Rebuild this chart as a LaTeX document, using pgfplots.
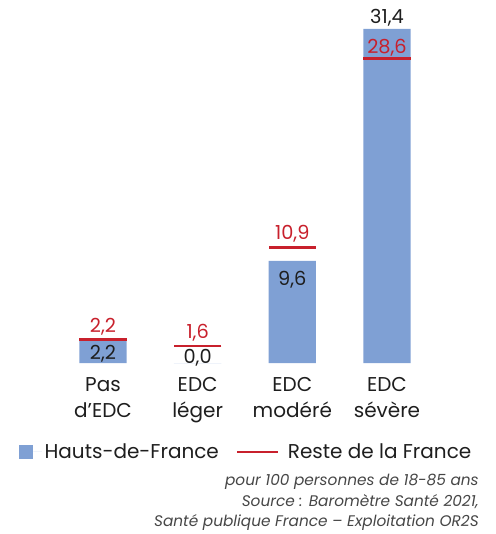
\documentclass[border=0pt]{standalone}
\usepackage{fontspec}
\setmainfont{Poppins}
\usepackage{pgfplots}
\usepackage{pgfplotstable}
\pgfplotsset{compat=1.18}
\definecolor{hdfblue}{RGB}{127,160,212}
\definecolor{frred}{RGB}{200,32,44}
\definecolor{txt}{RGB}{30,30,30}
\definecolor{note}{RGB}{70,70,70}

% Hauts-de-France (bars) vs reste de la France (red marks)
\pgfplotstableread{
x hdf fr
0 2.2 2.2
1 0.0 1.6
2 9.6 10.9
3 31.4 28.6
}\edcdata

\newcommand{\valfont}{\fontsize{14.5}{17}\selectfont}
\newcommand{\catfont}{\fontsize{15}{18}\selectfont}

\begin{document}
\begin{tikzpicture}[text=txt]
\begin{axis}[
  x=71pt, y=7.98pt, scale only axis,
  xmin=-1.088, xmax=4.151, ymin=-16.07, ymax=34.12,
  hide axis, clip=false,
  legend columns=2,
  legend style={draw=none, fill=none, at={(axis cs:-0.887,-8.36)}, anchor=west,
    inner sep=0pt, font=\catfont, text=txt,
    /tikz/every even column/.append style={column sep=11pt}},
]
\path (rel axis cs:0,0) rectangle (rel axis cs:1,1);

\addplot[ybar, bar width=35.5pt, bar shift=0pt, fill=hdfblue, draw=none,
  legend image code/.code={\fill[hdfblue] (0pt,-5.25pt) rectangle (10.5pt,5.25pt);
    \path (10.5pt,0pt) -- (17pt,0pt);}]
  table[x=x, y=hdf] {\edcdata};
\addlegendentry{Hauts-de-France}

\addplot[only marks, mark=-, mark size=17.75pt,
  mark options={line width=2.2pt, draw=frred},
  legend image code/.code={\path[draw=none, fill=none] (0pt,-3pt) rectangle (36pt,3pt);
    \draw[frred, line width=1.5pt] (0pt,0pt) -- (30.75pt,0pt);}]
  table[x=x, y=fr] {\edcdata};
\addlegendentry{Reste de la France}

% value labels
\begin{scope}[every node/.style={anchor=base, font=\valfont}]
\node[text=frred] at (axis cs:0,2.91) {2,2};
\node[text=frred] at (axis cs:1,2.35) {1,6};
\node[text=frred] at (axis cs:2,11.65) {10,9};
\node[text=frred] at (axis cs:3,29.1) {28,6};
\node at (axis cs:0,0.35) {2,2};
\node at (axis cs:1,0) {0,0};
\node at (axis cs:2,7.26) {9,6};
\node at (axis cs:3,31.93) {31,4};
\end{scope}

% category labels
\begin{scope}[every node/.style={anchor=base, font=\catfont}]
\node at (axis cs:0,-2.70) {Pas};
\node at (axis cs:0,-5.11) {d\char39\relax EDC};
\node at (axis cs:1,-2.70) {EDC};
\node at (axis cs:1,-5.11) {léger};
\node at (axis cs:2,-2.70) {EDC};
\node at (axis cs:2,-5.11) {modéré};
\node at (axis cs:3,-2.70) {EDC};
\node at (axis cs:3,-5.11) {sévère};
\end{scope}

% source
\begin{scope}[every node/.style={anchor=base east, inner sep=0pt,
    font=\fontsize{11.5}{13}\selectfont\itshape, text=note}]
\node at (axis cs:3.972,-11.47) {pour 100 personnes de 18-85 ans};
\node at (axis cs:3.972,-13.44) {Source : Baromètre Santé 2021,};
\node at (axis cs:3.972,-15.37) {Santé publique France – Exploitation OR2S};
\end{scope}
\end{axis}
\end{tikzpicture}
\end{document}
